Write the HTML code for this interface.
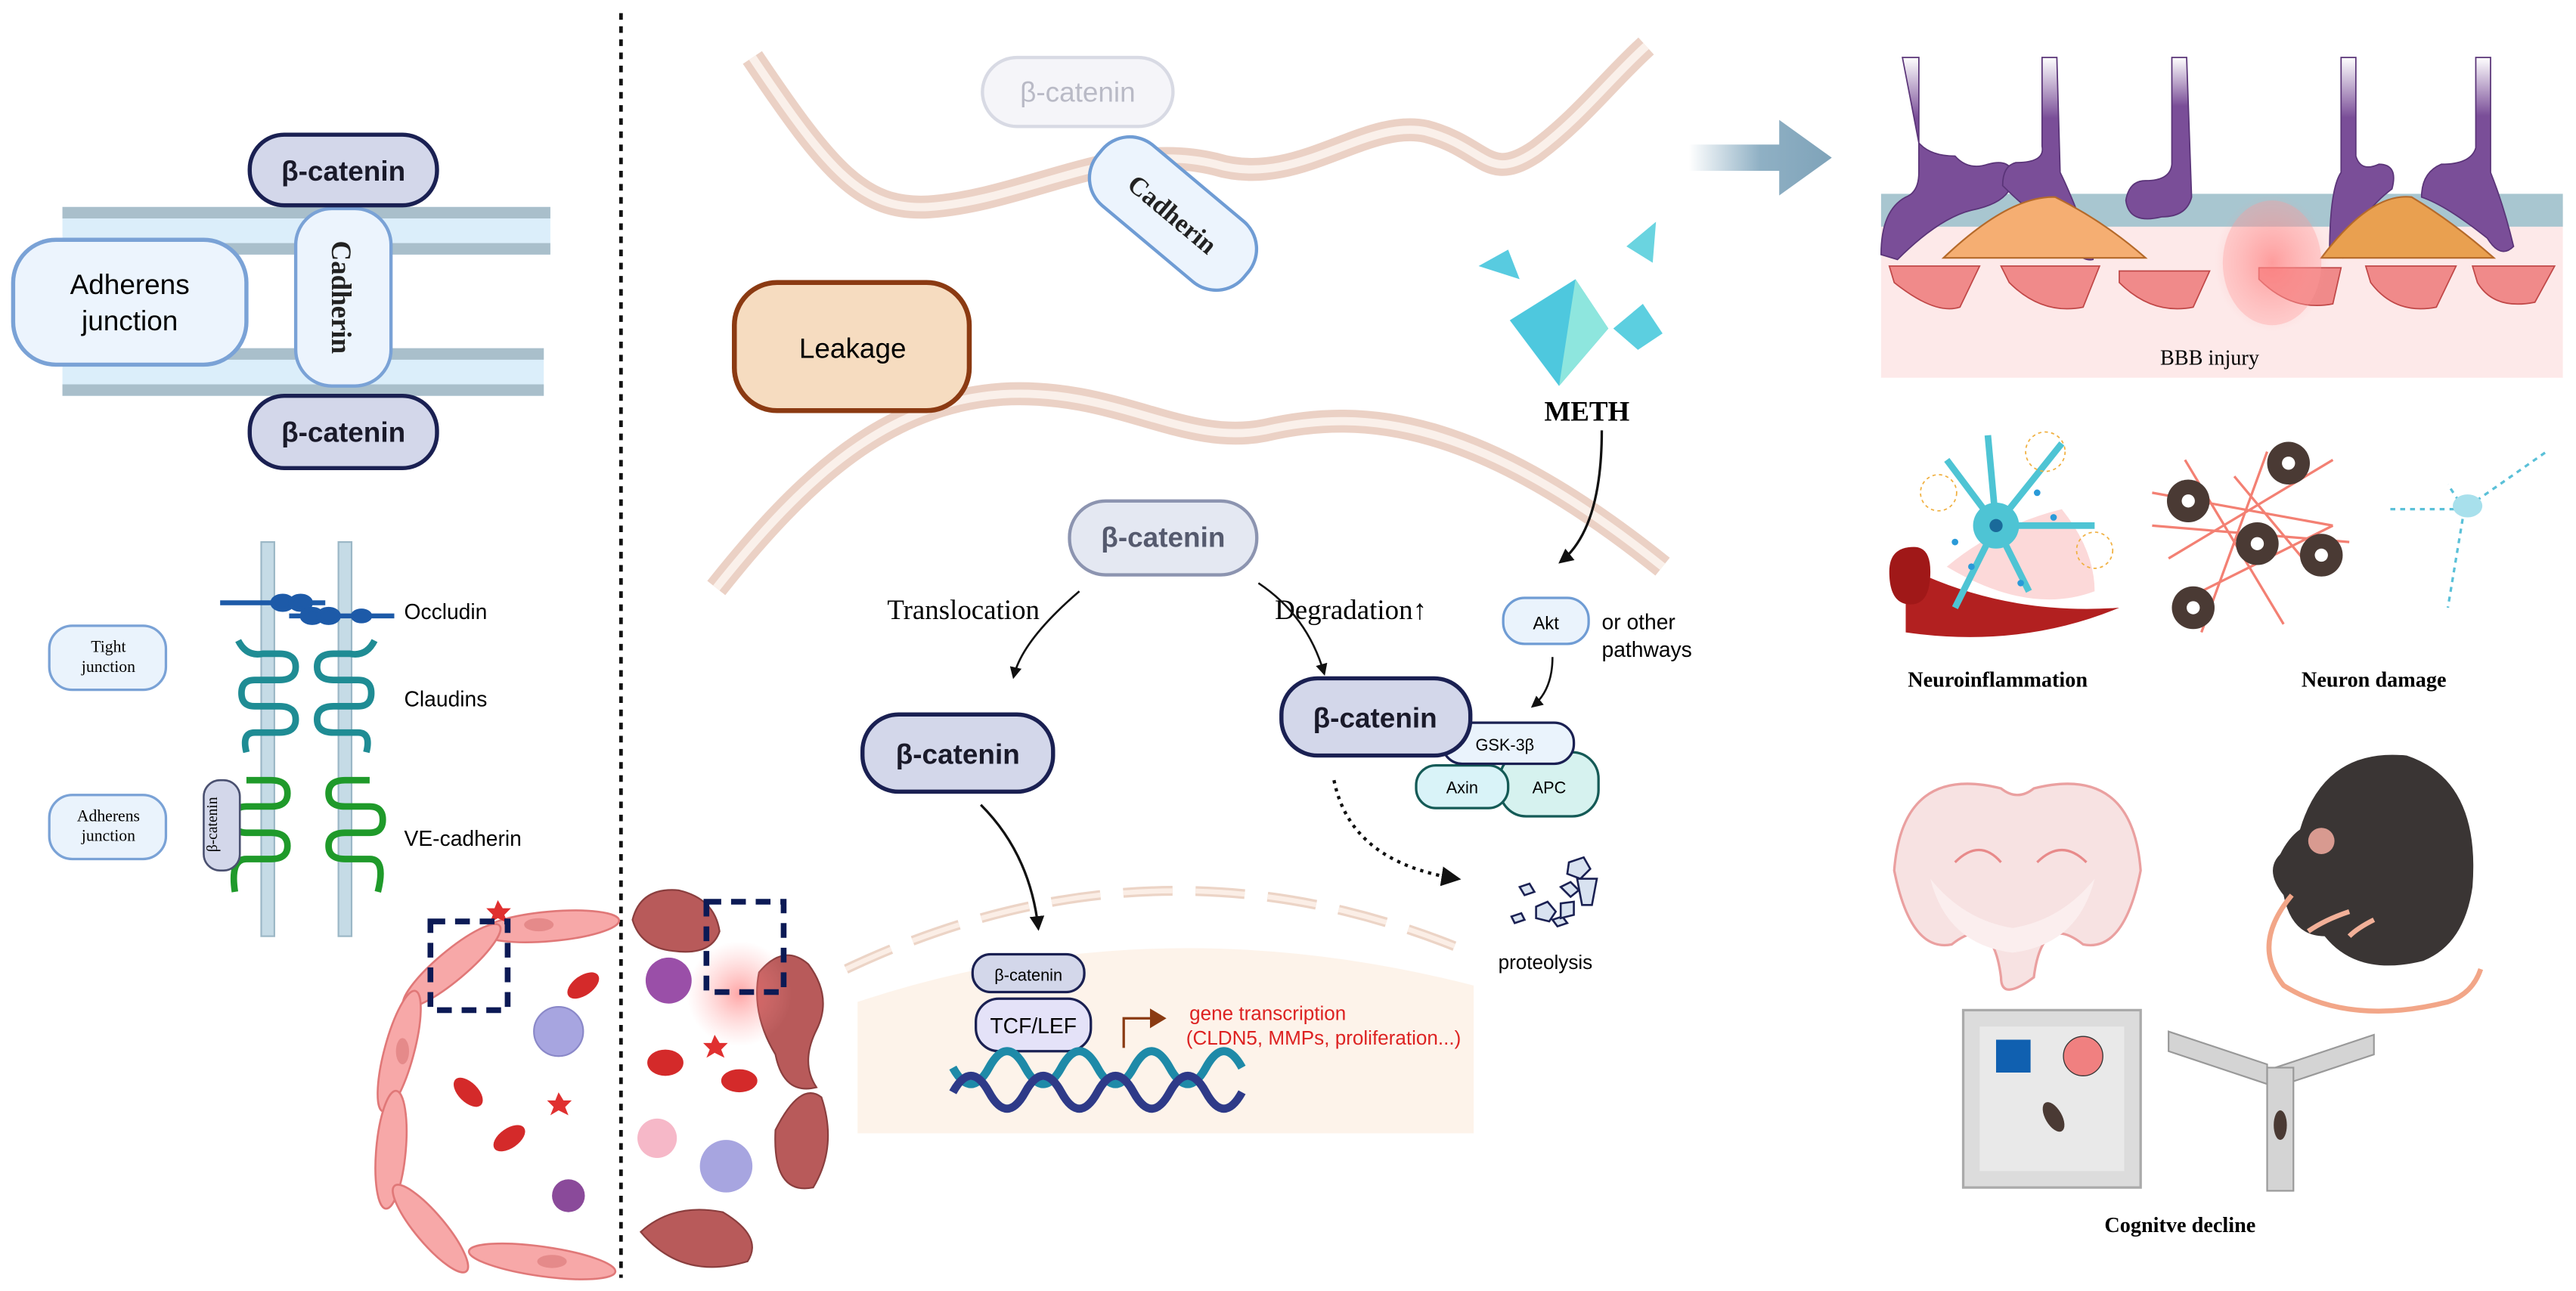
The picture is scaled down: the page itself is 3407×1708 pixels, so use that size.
<!DOCTYPE html>
<html><head><meta charset="utf-8"><style>
html,body{margin:0;padding:0;background:#fff;width:3407px;height:1708px;overflow:hidden}
svg{display:block}
text{font-family:"Liberation Sans",sans-serif}
.serif{font-family:"Liberation Serif",serif}
</style></head><body>
<svg width="3407" height="1708" viewBox="0 0 1568 786" preserveAspectRatio="none" xmlns="http://www.w3.org/2000/svg">
<defs>
<linearGradient id="arr" x1="0" x2="1"><stop offset="0" stop-color="#8fb0c4" stop-opacity="0"/><stop offset="0.5" stop-color="#8fb0c4"/><stop offset="1" stop-color="#7fa3b9"/></linearGradient>
<radialGradient id="glow"><stop offset="0" stop-color="#ff6b6b" stop-opacity="0.6"/><stop offset="1" stop-color="#ff9999" stop-opacity="0"/></radialGradient>
<linearGradient id="pur" x1="0" y1="0" x2="0" y2="1"><stop offset="0" stop-color="#7a4e98" stop-opacity="0"/><stop offset="0.3" stop-color="#7a4e98"/></linearGradient>
<marker id="ah" viewBox="0 0 10 10" refX="8" refY="5" markerWidth="6" markerHeight="6" orient="auto"><path d="M0,0L10,5L0,10z" fill="#111"/></marker>
</defs>

<!-- dotted divider -->
<line x1="378" y1="8" x2="378" y2="778" stroke="#111" stroke-width="2.2" stroke-dasharray="4,4"/>

<!-- membrane bands -->
<rect x="38" y="126" width="297" height="29" fill="#dbeefa"/>
<rect x="38" y="126" width="297" height="7" fill="#a9bfcb"/>
<rect x="38" y="148" width="297" height="7" fill="#a9bfcb"/>
<rect x="38" y="212" width="293" height="29" fill="#dbeefa"/>
<rect x="38" y="212" width="293" height="7" fill="#a9bfcb"/>
<rect x="38" y="234" width="293" height="7" fill="#a9bfcb"/>

<rect x="8" y="146" width="142" height="76" rx="26" fill="#ecf4fd" stroke="#7aa2d6" stroke-width="2.5"/>
<text x="79" y="179" font-size="17" text-anchor="middle">Adherens</text>
<text x="79" y="201" font-size="17" text-anchor="middle">junction</text>
<rect x="180" y="127" width="58" height="108" rx="22" fill="#ecf4fd" stroke="#7aa2d6" stroke-width="2"/>
<text class="serif" transform="translate(202,181) rotate(90)" font-size="17" font-weight="bold" text-anchor="middle" fill="#222">Cadherin</text>
<rect x="152" y="82" width="114" height="43" rx="21" fill="#d3d7ea" stroke="#1a2052" stroke-width="2.5"/>
<text x="209" y="110" font-size="17" font-weight="bold" text-anchor="middle" fill="#1a1a2a">β-catenin</text>
<rect x="152" y="241" width="114" height="44" rx="21" fill="#d3d7ea" stroke="#1a2052" stroke-width="2.5"/>
<text x="209" y="269" font-size="17" font-weight="bold" text-anchor="middle" fill="#1a1a2a">β-catenin</text>

<!-- junction proteins -->
<rect x="159" y="330" width="8" height="240" fill="#c5dbe6" stroke="#9bb7c6"/>
<rect x="206" y="330" width="8" height="240" fill="#c5dbe6" stroke="#9bb7c6"/>
<g stroke="#1d5aa8" stroke-width="3" fill="#1d5aa8">
<line x1="134" y1="367" x2="198" y2="367"/><line x1="176" y1="375" x2="240" y2="375"/>
<ellipse cx="172" cy="367" rx="6" ry="4"/><ellipse cx="183" cy="367" rx="6" ry="4"/><ellipse cx="190" cy="375" rx="6" ry="4"/><ellipse cx="200" cy="375" rx="6" ry="4"/><ellipse cx="220" cy="375" rx="5" ry="3"/>
</g>
<g fill="none" stroke="#1f8c94" stroke-width="4">
<path d="M145,390 q5,10 15,8 h10 q10,0 10,8 q0,8 -10,8 h-15 q-8,0 -8,8 q0,8 8,8 h15 q10,0 10,8 q0,8 -10,8 h-15 q-8,0 -5,12"/>
<path d="M228,390 q-5,10 -15,8 h-10 q-10,0 -10,8 q0,8 10,8 h15 q8,0 8,8 q0,8 -8,8 h-15 q-10,0 -10,8 q0,8 10,8 h15 q8,0 5,12"/>
</g>
<g fill="none" stroke="#1f9a2a" stroke-width="4">
<path d="M150,475 h15 q10,0 10,8 q0,8 -10,8 h-15 q-8,0 -8,8 q0,8 8,8 h15 q10,0 10,8 q0,8 -10,8 h-15 q-10,0 -7,20"/>
<path d="M225,475 h-15 q-10,0 -10,8 q0,8 10,8 h15 q8,0 8,8 q0,8 -8,8 h-15 q-10,0 -10,8 q0,8 10,8 h15 q10,0 5,20"/>
</g>
<rect x="124" y="475" width="22" height="55" rx="10" fill="#d3d7ea" stroke="#4a5070" stroke-width="1.2"/>
<text class="serif" transform="translate(132,502) rotate(-90)" font-size="9" text-anchor="middle">β-catenin</text>
<text x="246" y="377" font-size="13">Occludin</text>
<text x="246" y="430" font-size="13">Claudins</text>
<text x="246" y="515" font-size="13">VE-cadherin</text>
<rect x="30" y="381" width="71" height="39" rx="14" fill="#eaf3fc" stroke="#7aa2d6" stroke-width="1.5"/>
<text class="serif" x="66" y="397" font-size="10" text-anchor="middle">Tight</text>
<text class="serif" x="66" y="409" font-size="10" text-anchor="middle">junction</text>
<rect x="30" y="484" width="71" height="39" rx="14" fill="#eaf3fc" stroke="#7aa2d6" stroke-width="1.5"/>
<text class="serif" x="66" y="500" font-size="10" text-anchor="middle">Adherens</text>
<text class="serif" x="66" y="512" font-size="10" text-anchor="middle">junction</text>

<!-- vessel: endothelial ring (left half) -->
<g fill="#f7a8a8" stroke="#e07878" stroke-width="1.2">
<ellipse cx="335" cy="564" rx="42" ry="9" transform="rotate(-5 335 564)"/>
<ellipse cx="275" cy="588" rx="38" ry="9" transform="rotate(-40 275 588)"/>
<ellipse cx="243" cy="640" rx="38" ry="9" transform="rotate(-75 243 640)"/>
<ellipse cx="238" cy="700" rx="36" ry="9" transform="rotate(95 238 700)"/>
<ellipse cx="262" cy="748" rx="34" ry="9" transform="rotate(50 262 748)"/>
<ellipse cx="330" cy="768" rx="45" ry="9" transform="rotate(8 330 768)"/>
</g>
<g fill="#e58a8a"><ellipse cx="328" cy="563" rx="9" ry="4"/><ellipse cx="245" cy="640" rx="4" ry="8"/><ellipse cx="336" cy="768" rx="9" ry="4"/></g>
<g fill="#b85a5a" stroke="#8a3e3e" stroke-width="1">
<path d="M385,560 q5,-20 28,-18 q22,5 25,25 q-5,15 -28,12 q-20,-2 -25,-19z"/>
<path d="M462,592 q15,-18 30,-5 q15,20 5,40 q-10,20 0,35 q-20,5 -25,-20 q-15,-25 -10,-50z"/>
<path d="M472,688 q15,-30 28,-20 q10,30 -5,55 q-25,5 -23,-35z"/>
<path d="M390,750 q20,-18 50,-12 q25,15 15,30 q-40,12 -65,-18z"/>
</g>
<circle cx="450" cy="605" r="32" fill="url(#glow)"/>
<g fill="#d42a2a"><ellipse cx="355" cy="600" rx="11" ry="6" transform="rotate(-35 355 600)"/><ellipse cx="285" cy="665" rx="11" ry="6" transform="rotate(45 285 665)"/><ellipse cx="310" cy="693" rx="11" ry="6" transform="rotate(-35 310 693)"/><ellipse cx="405" cy="647" rx="11" ry="8"/><ellipse cx="450" cy="658" rx="11" ry="7"/></g>
<g fill="#e03030"><path d="M303,548 l3,5 5,0 -4,4 2,5 -6,-3 -5,3 2,-5 -4,-4 5,0z" transform="translate(0,0)"/><path d="M340,665 l3,5 5,0 -4,4 2,5 -6,-3 -5,3 2,-5 -4,-4 5,0z"/><path d="M435,630 l3,5 5,0 -4,4 2,5 -6,-3 -5,3 2,-5 -4,-4 5,0z"/></g>
<circle cx="340" cy="628" r="15" fill="#a7a5e0" stroke="#8a88c8"/><circle cx="442" cy="710" r="16" fill="#a7a5e0"/>
<circle cx="407" cy="597" r="14" fill="#9a4fa8"/><circle cx="346" cy="728" r="10" fill="#8a4a9a"/><circle cx="400" cy="693" r="12" fill="#f6b8c8"/>
<g fill="none" stroke="#0c1a55" stroke-width="3.5" stroke-dasharray="9,6"><rect x="262" y="561" width="47" height="54"/><rect x="430" y="549" width="47" height="55"/></g>

<!-- nucleus -->
<path d="M522,610 q180,-60 375,-10 v90 h-375z" fill="#fdf3ea"/>
<path d="M515,590 q190,-90 380,-10" fill="none" stroke="#ecd4c6" stroke-width="6" stroke-dasharray="30,14"/>
<path d="M515,590 q190,-90 380,-10" fill="none" stroke="#fbeee6" stroke-width="3" stroke-dasharray="30,14"/>
<rect x="592" y="581" width="68" height="23" rx="11" fill="#d3d7ea" stroke="#1a2052" stroke-width="1.5"/>
<text x="626" y="597" font-size="10" text-anchor="middle">β-catenin</text>
<rect x="594" y="608" width="70" height="32" rx="14" fill="#e4e2f8" stroke="#1a2052" stroke-width="1.5"/>
<text x="629" y="629" font-size="13" text-anchor="middle">TCF/LEF</text>
<path d="M580,650 q11,20 22,0 t22,0 t22,0 t22,0 t22,0 t22,0 t22,0 t22,0" fill="none" stroke="#1e8aa8" stroke-width="5"/>
<path d="M580,665 q11,-20 22,0 t22,0 t22,0 t22,0 t22,0 t22,0 t22,0 t22,0" fill="none" stroke="#2e3a88" stroke-width="5"/>
<path d="M684,638 v-18 h18" fill="none" stroke="#8a3a12" stroke-width="1.5"/><path d="M700,614 l10,6 l-10,6z" fill="#8a3a12"/>
<text x="724" y="621" font-size="12" fill="#d22">gene transcription</text>
<text x="722" y="636" font-size="12" fill="#d22">(CLDN5, MMPs, proliferation...)</text>

<!-- wavy membranes -->
<g fill="none">
<path d="M458,35 C505,105 525,128 565,126 C625,122 680,85 740,100 C790,115 830,72 868,80 C905,90 905,112 935,92 C962,72 980,48 1002,28" stroke="#ebd1c5" stroke-width="14"/>
<path d="M458,35 C505,105 525,128 565,126 C625,122 680,85 740,100 C790,115 830,72 868,80 C905,90 905,112 935,92 C962,72 980,48 1002,28" stroke="#faf0ea" stroke-width="5"/>
<path d="M436,358 C490,290 540,245 610,240 C680,236 720,272 770,262 C830,248 900,255 1012,345" stroke="#ebd1c5" stroke-width="14"/>
<path d="M436,358 C490,290 540,245 610,240 C680,236 720,272 770,262 C830,248 900,255 1012,345" stroke="#faf0ea" stroke-width="5"/>
</g>
<rect x="598" y="35" width="116" height="42" rx="21" fill="#f5f5f9" stroke="#d8dae4" stroke-width="2"/>
<text x="656" y="62" font-size="17" text-anchor="middle" fill="#b9bac6">β-catenin</text>
<g transform="translate(714,130) rotate(40)">
<rect x="-58" y="-24" width="116" height="48" rx="22" fill="#ecf4fd" stroke="#6f9cd4" stroke-width="2"/>
<text class="serif" y="6" font-size="16" font-weight="bold" text-anchor="middle" fill="#222">Cadherin</text></g>
<rect x="447" y="172" width="143" height="78" rx="26" fill="#f6dcc0" stroke="#8b3a12" stroke-width="3"/>
<text x="519" y="218" font-size="17" text-anchor="middle">Leakage</text>
<rect x="651" y="305" width="114" height="45" rx="22" fill="#e4e8f2" stroke="#8c94b0" stroke-width="2"/>
<text x="708" y="333" font-size="17" font-weight="bold" text-anchor="middle" fill="#555a6e">β-catenin</text>
<text class="serif" x="540" y="377" font-size="17">Translocation</text>
<text class="serif" x="776" y="377" font-size="17">Degradation↑</text>
<path d="M657,360 q-35,30 -40,52" fill="none" stroke="#111" stroke-width="1.2" marker-end="url(#ah)"/>
<path d="M766,355 q30,20 40,55" fill="none" stroke="#111" stroke-width="1.2" marker-end="url(#ah)"/>
<rect x="525" y="435" width="116" height="47" rx="22" fill="#d3d7ea" stroke="#1a2052" stroke-width="2.5"/>
<text x="583" y="465" font-size="17" font-weight="bold" text-anchor="middle" fill="#1a1a2a">β-catenin</text>
<path d="M597,490 q30,30 35,75" fill="none" stroke="#111" stroke-width="1.5" marker-end="url(#ah)"/>

<!-- degradation -->
<rect x="913" y="458" width="60" height="39" rx="16" fill="#d6f2ef" stroke="#145a56" stroke-width="1.5"/>
<text x="943" y="483" font-size="10" text-anchor="middle">APC</text>
<rect x="862" y="466" width="56" height="26" rx="12" fill="#d9f3f8" stroke="#145a56" stroke-width="1.5"/>
<text x="890" y="483" font-size="10" text-anchor="middle">Axin</text>
<rect x="878" y="440" width="80" height="25" rx="12" fill="#eaf3fc" stroke="#1a2052" stroke-width="1.5"/>
<text x="916" y="457" font-size="10" text-anchor="middle">GSK-3β</text>
<rect x="780" y="413" width="115" height="47" rx="22" fill="#d3d7ea" stroke="#1a2052" stroke-width="2.5"/>
<text x="837" y="443" font-size="17" font-weight="bold" text-anchor="middle" fill="#1a1a2a">β-catenin</text>
<rect x="915" y="364" width="52" height="28" rx="13" fill="#eaf3fc" stroke="#6f9cd4" stroke-width="1.5"/>
<text x="941" y="383" font-size="11" text-anchor="middle">Akt</text>
<text x="975" y="383" font-size="13">or other</text>
<text x="975" y="400" font-size="13">pathways</text>
<path d="M945,400 q0,20 -12,30" fill="none" stroke="#111" stroke-width="1.2" marker-end="url(#ah)"/>
<path d="M975,262 q0,60 -25,80" fill="none" stroke="#111" stroke-width="1.5" marker-end="url(#ah)"/>
<path d="M812,475 q10,50 75,60" fill="none" stroke="#111" stroke-width="2" stroke-dasharray="2,3" marker-end="url(#ah)"/>
<g fill="#d8e2f0" stroke="#1a2052" stroke-width="1.2">
<path d="M955,525 l9,-3 4,7 -6,6 -8,-3z"/><path d="M925,540 l6,-2 3,5 -6,2z"/><path d="M935,552 l7,-3 5,6 -4,6 -8,-2z"/><path d="M950,540 l6,-3 5,5 -5,4z"/><path d="M960,535 l12,0 -3,16 -6,0z"/><path d="M920,558 l6,-2 2,4 -6,2z"/><path d="M945,560 l6,-2 3,4 -6,2z"/><path d="M950,550 l8,-1 0,8 -8,2z"/>
</g>
<text x="912" y="590" font-size="12">proteolysis</text>

<!-- METH crystals -->
<path d="M919,195 l40,-25 l20,30 l-30,35z" fill="#4ec8de"/><path d="M959,170 l20,30 l-30,35z" fill="#8ee6de"/>
<path d="M900,162 l18,-10 l7,18z" fill="#58cbe0"/><path d="M990,150 l18,-15 l-2,25z" fill="#6ad4e0"/>
<path d="M982,200 l18,-15 l12,18 l-15,10z" fill="#5ccfe0"/>
<text class="serif" x="940" y="256" font-size="17" font-weight="bold">METH</text>

<!-- big arrow -->
<path d="M1028,88 h55 v-15 l32,23 l-32,23 v-15 h-55z" fill="url(#arr)"/>

<!-- BBB panel -->
<rect x="1145" y="125" width="415" height="105" fill="#fde9e9"/>
<rect x="1145" y="118" width="415" height="20" fill="#a8c6d0"/>
<g fill="url(#pur)" stroke="#5a3478" stroke-width="0.8">
<path d="M1158,35 h10 v70 q0,12 -8,15 q-15,8 -15,35 l10,3 q25,-25 45,-30 q25,-5 25,-20 q0,-12 -15,-8 q-12,4 -20,-5 q-15,0 -22,-8z"/>
<path d="M1243,35 h9 l2,70 q5,10 12,28 q10,10 8,25 q-8,2 -20,-15 q-20,-15 -35,-30 q0,-12 8,-14 q18,0 16,-10z"/>
<path d="M1322,35 h9 l3,85 q-3,12 -18,12 q-20,5 -22,-10 q2,-12 12,-12 q15,0 16,-10z"/>
<path d="M1425,35 h9 v60 q3,10 14,5 q12,0 8,15 q-20,15 -30,42 l-8,-2 q0,-40 7,-50z"/>
<path d="M1507,35 h9 v70 q8,20 14,45 q-8,8 -16,-5 q-25,-20 -40,-25 q0,-15 12,-20 q18,0 21,-10z"/>
</g>
<path d="M1183,157 q40,-38 68,-37 q30,15 55,37z" fill="#f5ae72" stroke="#b56a2a"/>
<path d="M1413,157 q30,-40 55,-37 q25,15 50,37z" fill="#e9a050" stroke="#b56a2a"/>
<g fill="#f08a8a" stroke="#c04848" stroke-width="0.8">
<path d="M1150,162 h55 l-12,25 q-15,5 -40,-15z"/><path d="M1218,162 h60 l-10,25 q-25,5 -45,-15z"/><path d="M1290,165 h55 l-10,22 q-25,5 -45,-15z"/><path d="M1375,163 h50 l-5,22 q-25,5 -45,-15z"/><path d="M1440,162 h55 l-12,25 q-25,5 -40,-15z"/><path d="M1505,162 h50 l-12,22 q-25,5 -35,-12z"/>
</g>
<ellipse cx="1383" cy="160" rx="35" ry="42" fill="url(#glow)"/>
<ellipse cx="1383" cy="160" rx="30" ry="38" fill="#ff9a9a" opacity="0.35"/>
<text class="serif" x="1345" y="222" font-size="13" text-anchor="middle">BBB injury</text>

<!-- neuroinflammation -->
<path d="M1160,345 q60,30 130,25 q-60,25 -130,15z" fill="#b22020"/>
<path d="M1150,348 q0,-15 15,-15 q10,0 10,15 q0,20 -12,20 q-13,0 -13,-20z" fill="#a01818"/>
<path d="M1185,345 q30,-25 70,-35 q20,25 20,50 q-40,15 -90,-15z" fill="#fbd0d0" opacity="0.8"/>
<g stroke="#4ec4d4" stroke-width="4" fill="none"><path d="M1215,320 l-30,-40 M1215,320 l40,-50 M1215,320 l-25,50 M1215,320 l20,40 M1215,320 l60,0 M1215,320 l-5,-55"/></g>
<circle cx="1215" cy="320" r="14" fill="#4ec4d4"/><circle cx="1215" cy="320" r="4" fill="#1a6a9a"/>
<g fill="none" stroke="#f0b040" stroke-width="0.8"><circle cx="1245" cy="275" r="12" stroke-dasharray="2,2"/><circle cx="1275" cy="335" r="11" stroke-dasharray="2,2"/><circle cx="1180" cy="300" r="11" stroke-dasharray="2,2"/></g>
<g fill="#2a9ad8"><circle cx="1200" cy="345" r="2"/><circle cx="1240" cy="300" r="2"/><circle cx="1250" cy="315" r="2"/><circle cx="1190" cy="330" r="2"/><circle cx="1230" cy="355" r="2"/></g>
<text class="serif" x="1216" y="418" font-size="13" font-weight="bold" text-anchor="middle">Neuroinflammation</text>
<!-- neuron damage -->
<g stroke="#f06050" stroke-width="1.5" fill="none" opacity="0.8">
<path d="M1310,300 l110,20 M1320,340 l100,-60 M1330,280 l60,100 M1360,290 l50,60 M1310,320 l120,10 M1340,360 l80,-40 M1380,275 l-40,110"/>
</g>
<g fill="#4a3a34"><circle cx="1393" cy="282" r="13"/><circle cx="1332" cy="305" r="13"/><circle cx="1374" cy="331" r="13"/><circle cx="1413" cy="338" r="13"/><circle cx="1335" cy="370" r="13"/></g>
<g fill="#fff"><circle cx="1393" cy="282" r="4"/><circle cx="1332" cy="305" r="4"/><circle cx="1374" cy="331" r="4"/><circle cx="1413" cy="338" r="4"/><circle cx="1335" cy="370" r="4"/></g>
<g stroke="#5ac0d8" stroke-width="1.5" fill="none" stroke-dasharray="3,3"><path d="M1455,310 l45,0 l50,-35 M1500,310 l-10,60 M1500,310 l-10,-15"/></g>
<ellipse cx="1502" cy="308" rx="9" ry="7" fill="#a8e0ec"/>
<text class="serif" x="1445" y="418" font-size="13" font-weight="bold" text-anchor="middle">Neuron damage</text>

<!-- brain -->
<path d="M1218,480 q-60,-15 -65,50 q10,50 35,45 q25,-20 30,20 q0,15 20,0 q5,-40 30,-20 q25,5 35,-45 q-5,-65 -65,-50 q-10,8 -20,0z" fill="#f7e2e2" stroke="#eaa0a0" stroke-width="1.5"/>
<path d="M1175,535 q20,25 50,30 q30,-5 50,-30 q-10,40 -50,45 q-40,-5 -50,-45z" fill="#fbeeee"/>
<path d="M1190,525 q15,-15 28,0 M1240,525 q15,-15 30,0" fill="none" stroke="#e88a8a" stroke-width="1.5"/>
<!-- mouse -->
<path d="M1400,505 q15,-50 65,-45 q45,15 40,80 q-5,35 -30,45 q-40,10 -60,-15 q-20,0 -25,-25 q-12,-15 -2,-25 q5,-10 12,-15z" fill="#3a3534"/>
<circle cx="1413" cy="512" r="8" fill="#d89a90"/>
<path d="M1395,545 q-25,30 -5,55 q40,25 100,10 q15,-5 20,-20" fill="none" stroke="#f2a688" stroke-width="3"/>
<path d="M1430,555 q-15,5 -25,12 M1445,560 q-10,5 -15,10" stroke="#f2b098" stroke-width="3" fill="none"/>
<!-- cognitive -->
<rect x="1195" y="615" width="108" height="108" fill="#dcdcdc" stroke="#aaa" stroke-width="1.5"/>
<rect x="1205" y="625" width="88" height="88" fill="#e9e9e9"/>
<rect x="1215" y="633" width="21" height="20" fill="#1060b0"/>
<circle cx="1268" cy="643" r="12" fill="#f08080" stroke="#333" stroke-width="0.6"/>
<ellipse cx="1250" cy="680" rx="5" ry="10" fill="#4a3a34" transform="rotate(-30 1250 680)"/>
<g fill="#d4d4d4" stroke="#999"><path d="M1320,628 l60,20 v12 l-60,-20z"/><path d="M1385,650 l60,-20 v12 l-60,20z"/><rect x="1380" y="650" width="16" height="75"/></g>
<ellipse cx="1388" cy="685" rx="4" ry="9" fill="#4a3a34"/>
<text class="serif" x="1327" y="750" font-size="13" font-weight="bold" text-anchor="middle">Cognitve decline</text>
</svg>
</body></html>
